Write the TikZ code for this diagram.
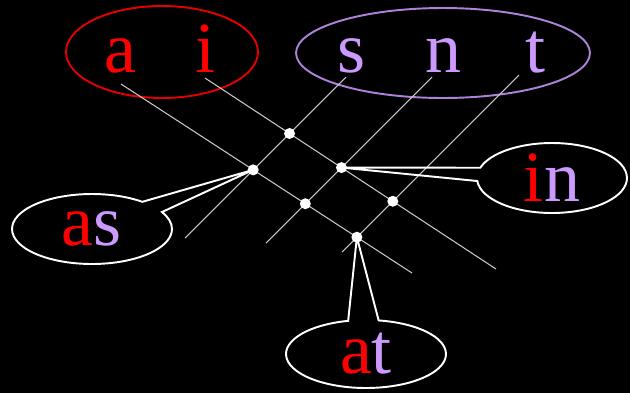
\documentclass[tikz,border=0pt]{standalone}
\usepackage{fontspec}
\setmainfont{Liberation Serif}
\usetikzlibrary{shapes.geometric,shapes.callouts}
\definecolor{rose}{RGB}{255,0,0}
\definecolor{lilac}{RGB}{204,153,255}
\definecolor{wire}{RGB}{200,200,200}
\tikzset{
  letter/.style={text=#1,font=\fontsize{41}{45}\selectfont,inner sep=0pt,anchor=base},
  letter/.default=rose,
  group/.style={ellipse,draw=#1,line width=1.1pt,inner sep=0pt},
  group/.default=rose,
  wireline/.style={draw=wire,line width=0.6pt},
  dot/.style={circle,fill=white,inner sep=0pt,minimum size=2.2mm},
  bubble/.style={ellipse callout,draw=white,line width=1.1pt,inner sep=0pt,
    font=\fontsize{41}{45}\selectfont,callout pointer arc=22,
    minimum width=3.2cm,minimum height=1.4cm},
}

\begin{document}
\begin{tikzpicture}[x=0.02cm,y=-0.02cm]
  % background
  \fill[black] (0,0) rectangle (630,393);
  % letter groups
  \node[group=rose!90!black,minimum width=3.84cm,minimum height=1.84cm] (vowels) at (162,52) {};
  \node[group=lilac!85!black,minimum width=5.88cm,minimum height=1.8cm] (consonants) at (443,53) {};
  \foreach \l/\x/\c in {a/120/rose,i/206/rose,s/352/lilac,n/444/lilac,t/536/lilac}
    \node[letter=\c] (\l) at (\x,72) {\l};
  % wires
  \foreach \l/\x/\y/\ex/\ey in {a/121/84/412/273,i/205/78/496/269,s/346/77/185/238,
      n/432/77/266/243,t/519/75/342/252}{
    \coordinate (\l1) at (\x,\y);
    \coordinate (\l2) at (\ex,\ey);
    \draw[wireline] (\l1) -- (\l2);
  }
  % crossings
  \foreach \u/\v in {a/s,a/n,a/t,i/s,i/n,i/t}
    \node[dot] (d-\u\v) at (intersection of \u1--\u2 and \v1--\v2) {};
  % words
  \node[bubble,callout absolute pointer={(d-as.center)}] (w-as) at (92,229) {\color{rose}a\color{lilac}s};
  \node[bubble,minimum width=3cm,callout absolute pointer={(d-in.center)}] (w-in) at (552,178) {\color{rose}i\color{lilac}n};
  \node[bubble,minimum height=1.36cm,callout absolute pointer={(d-at.center)}] (w-at) at (366,354) {\color{rose}a\color{lilac}t};
\end{tikzpicture}
\end{document}
